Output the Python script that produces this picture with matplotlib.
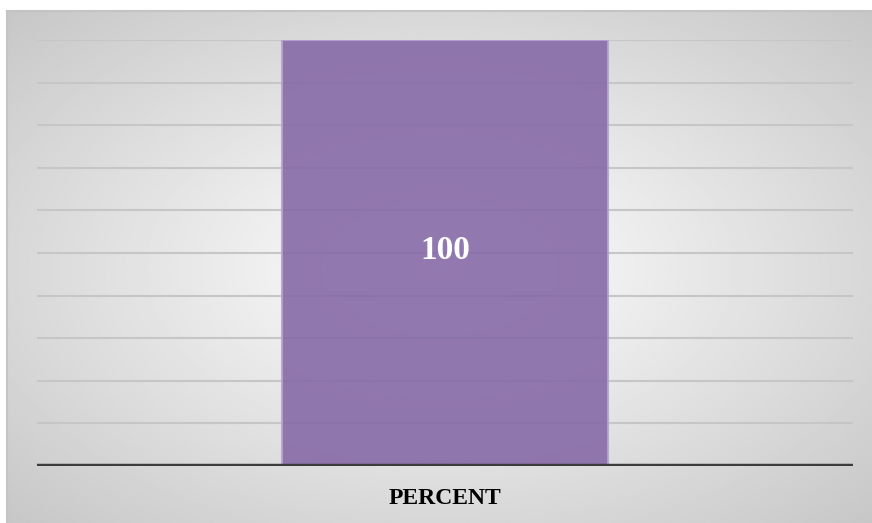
#!/usr/bin/env python3
"""Single bar chart: PERCENT = 100, on a radial grey background."""

import matplotlib
matplotlib.use("Agg")
import matplotlib.pyplot as plt
import numpy as np

categories = ["PERCENT"]
values = [100]
grid_ticks = [10, 20, 30, 40, 50, 60, 70, 80, 90, 100]

W, H = 872, 523
fig = plt.figure(figsize=(W / 100, H / 100), dpi=100)
fig.patch.set_facecolor("white")

# background panel with a radial gradient (white centre, grey edges)
bg = fig.add_axes([7 / W, 0, (W - 7) / W, (H - 11) / H])
nx, ny = 400, 240
xx, yy = np.meshgrid(np.linspace(-1, 1, nx), np.linspace(-1, 1, ny))
r = np.sqrt(xx ** 2 + yy ** 2) / np.sqrt(2)
shade = 1 - 0.22 * r
bg.imshow(shade, cmap="gray", vmin=0, vmax=1, aspect="auto",
          extent=[0, 1, 0, 1], interpolation="bilinear")
bg.set_xlim(0, 1)
bg.set_ylim(0, 1)
bg.set_xticks([])
bg.set_yticks([])
for side, sp in bg.spines.items():
    sp.set_visible(side in ("left", "top"))
    sp.set_color("#c4c4c4")
    sp.set_linewidth(1.5)

# main plot area
ax = fig.add_axes([37 / W, (H - 466) / H, (853 - 37) / W, (466 - 40) / H])
ax.patch.set_alpha(0)
x = np.arange(len(categories))
bars = ax.bar(x, values, width=0.4, color="#866AA7", alpha=0.9,
              edgecolor="#b6a2d4", linewidth=1.5, zorder=2)
ax.set_xlim(-0.5, 0.5)
ax.set_ylim(0, 100)
ax.set_yticks(grid_ticks)
ax.grid(axis="y", color="#c6c6c6", linewidth=1.5, zorder=1)
ax.set_axisbelow(True)
ax.tick_params(axis="y", left=False, labelleft=False)
ax.tick_params(axis="x", bottom=False)
ax.set_xticks(x)
ax.set_xticklabels(categories, family="Liberation Serif", fontweight="bold",
                   fontsize=17)
ax.tick_params(axis="x", pad=12)
for sp in ax.spines.values():
    sp.set_visible(False)
ax.axhline(0, color="#3c3c3c", linewidth=3.2, zorder=3)

for b, v in zip(bars, values):
    ax.text(b.get_x() + b.get_width() / 2, v * 0.505, f"{v}",
            ha="center", va="center", color="white", fontsize=24,
            family="Liberation Serif", fontweight="bold", zorder=4)

fig.savefig("out.png", dpi=100)
plt.close(fig)
